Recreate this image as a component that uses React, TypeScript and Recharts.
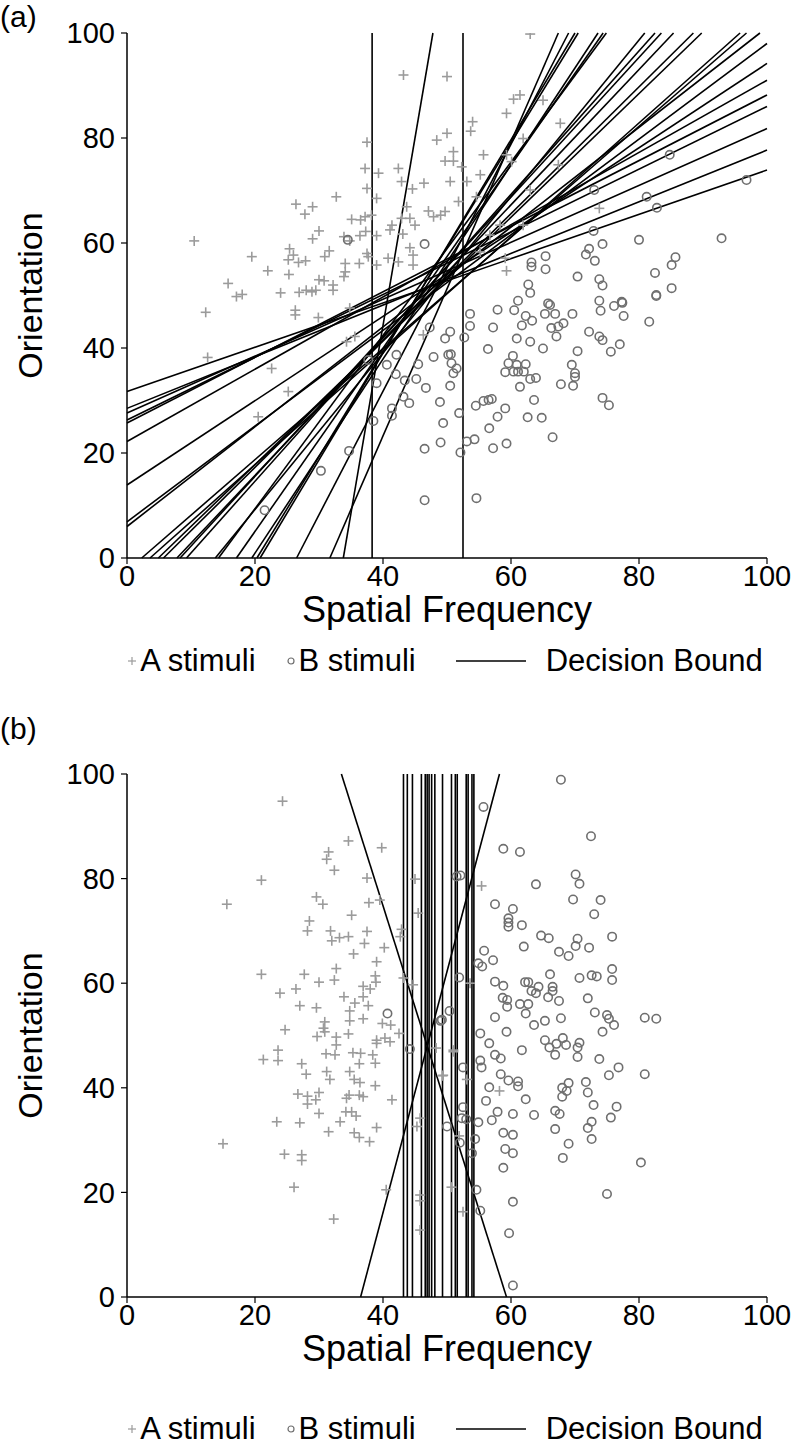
import React from 'react';
import { ScatterChart, Scatter, XAxis, YAxis, ReferenceLine, Label } from 'recharts';

const FONT = '"Liberation Sans", Arial, Helvetica, sans-serif';
const axisTicks = [0, 20, 40, 60, 80, 100];

// ---------- Panel (a) ----------
const panelA_A: [number, number][] = [
  [43.2, 92.0], [50, 91.7], [37.5, 79.2], [37.2, 74.2], [39.3, 73.3], [42.4, 74.2], [42.9, 71.7], [44.6, 70.3],
  [46.4, 71.4], [37.5, 70.4], [39, 68.5], [32.7, 68.8], [26.4, 67.4], [29, 66.9], [27.8, 65.5], [48.4, 79.6],
  [50, 80.9], [49.7, 75.6], [10.5, 60.4], [19.5, 57.4], [22, 54.7], [15.8, 52.3], [17.1, 49.8], [18, 50.2],
  [24, 50.5], [25.4, 58.9], [25.2, 56.8], [26, 57.7], [26.8, 56.3], [27.9, 56.6], [25.3, 54], [26.9, 50.6],
  [28, 51], [28.9, 50.7], [29.5, 51], [30, 53], [30.8, 52.8], [32.2, 52], [32.2, 51], [29, 60.8], [30, 62.3],
  [30.9, 57.4], [31.6, 58.5], [33.9, 61.2], [34.8, 60.4], [35.1, 64.5], [36.5, 64.4], [37.2, 65], [38.2, 65.3],
  [36.4, 61.4], [37.3, 62.2], [39, 61.4], [34.1, 56.1], [34.1, 54.5], [33.9, 53.6], [36.3, 56.1], [37.5, 58],
  [37.7, 57.4], [39, 55.8], [41.1, 62.5], [41.4, 63.4], [42.9, 64.7], [43.7, 66.9], [44.2, 64.7], [45, 63.4],
  [43.1, 61.7], [47.1, 66.1], [47.9, 65], [49, 65.3], [49.7, 66], [40.8, 57.1], [42.4, 56.4], [44.7, 57.7],
  [44.2, 59.1], [44.7, 55.8], [12.3, 46.8], [12.6, 38.2], [22.6, 36.1], [20.5, 26.9], [26.3, 47.2], [26.3, 46.3],
  [29.9, 45.8], [34.8, 47.6], [34.3, 41.2], [35.6, 42.2], [46.3, 42.5], [25.2, 31.7], [63, 99.8], [60.4, 87.4],
  [61.4, 88.2], [65, 87.2], [59.3, 84.7], [54, 83.1], [53.7, 81.3], [61.9, 79.9], [51, 77.4], [51, 75.6],
  [52.3, 74.5], [55.7, 76.8], [59.3, 76.8], [60.1, 75.5], [67.4, 74.9], [55.2, 73], [53.1, 71.7], [50.5, 71.7],
  [54.6, 68.8], [63, 70.1], [51.8, 67.9], [73.8, 66.6], [58.3, 63.4], [61.9, 63.4], [56.7, 61.5], [55.2, 58.3],
  [59.1, 57.1], [59.3, 54.7], [67.7, 82.8],
];

const panelA_B: [number, number][] = [
  [61.1, 49], [57.9, 47.3], [60.5, 47.2], [53.6, 46.5], [53.6, 44.2], [57.2, 43.9], [62.3, 46.1], [63.3, 45.2],
  [61.7, 44.3], [60.9, 41.8], [63, 41.2], [65, 39.9], [56.4, 39.8], [65.3, 46.5], [66.1, 48.2], [66.9, 46.5],
  [66.3, 43.8], [67.1, 42.2], [67.4, 44.1], [68.2, 44.7], [69.6, 46.5], [73.8, 49], [74, 47.1], [76.1, 48],
  [77.4, 48.6], [77.6, 46.1], [72.2, 43.1], [73.8, 42.2], [74.3, 41.5], [77, 40.7], [75.6, 39.3], [70.4, 39.4],
  [81.6, 45], [82.7, 49.9], [60.3, 38.5], [59.6, 37.1], [60.9, 36.8], [62.3, 36.9], [59.1, 35.4], [60.4, 35.5],
  [61.1, 35.5], [62, 35.5], [63, 34.1], [63.9, 34.3], [61.4, 32.6], [69.5, 36.8], [70, 35.2], [70, 34.5],
  [69.7, 32.8], [67.8, 33.1], [74.3, 30.5], [75.3, 29.1], [63.6, 30.1], [54.5, 29], [55.7, 29.9], [56.5, 30.1],
  [57, 30.3], [59.1, 28.5], [57.9, 26.9], [62.6, 26.8], [64.8, 26.7], [56.6, 24.7], [66.5, 23], [59.3, 21.8],
  [57.2, 20.9], [53.1, 22.2], [54.3, 22.6], [52.1, 20.1], [54.6, 11.4], [51.9, 27.6], [50.5, 32.8], [49.4, 25.7],
  [49, 22], [48.9, 29.7], [51, 35.2], [50.7, 37.1], [51.5, 36.1], [50.6, 38.8], [49.7, 41.8], [50.5, 43.1],
  [52.7, 42], [84.8, 76.8], [96.8, 72], [81.2, 68.8], [82.8, 66.7], [92.9, 60.9], [80, 60.6], [73, 70.1],
  [72.9, 62.3], [74.3, 59.8], [72.2, 58.9], [71.7, 57.8], [73.1, 56.6], [85.7, 57.3], [85.1, 55.8], [82.5, 54.3],
  [70.4, 53.6], [73.8, 53.1], [74.3, 51.9], [85.1, 51.4], [82.7, 50.1], [65.4, 57.5], [63.2, 56.3], [63.2, 55.5],
  [65.4, 55], [62.7, 52.1], [63, 50.5], [65.8, 48.5], [77.3, 48.8], [47.3, 43.9], [47.9, 38.3], [45.5, 36.9],
  [43.4, 33.8], [45.2, 34.1], [46.7, 32.4], [42, 35], [46.5, 20.8], [46.5, 11], [43.2, 30.7], [44.1, 29.5],
  [41.4, 28.5], [41.4, 27.1], [38.5, 26.1], [37.7, 37.7], [39, 33.3], [40.6, 36.8], [42.1, 38.7], [34.7, 20.4],
  [30.3, 16.6], [21.5, 9.1], [50.2, 38.7], [46.5, 59.8], [34.5, 60.6],
];

const panelA_vertical: number[] = [38.3, 52.5];

// decision bounds as [x1, y1, x2, y2]
const panelA_bounds: [number, number, number, number][] = [
  [0, 31.7, 100, 73.9], [0, 28.5, 100, 77.7], [0, 27.6, 100, 81.8], [0, 26.3, 100, 86],
  [0, 25.7, 100, 88.2], [0, 22.2, 100, 91], [0, 13.9, 100, 94.2], [0, 6.9, 100, 98], [0, 6.0, 98.9, 100],
  [2.3, 0, 96.8, 100], [3.6, 0, 95.8, 100], [4.9, 0, 89.8, 100], [5.7, 0, 88.5, 100], [7.8, 0, 85.4, 100],
  [8.3, 0, 83.5, 100], [9.3, 0, 82.5, 100], [13.8, 0, 80.9, 100], [14.3, 0, 74.9, 100], [17.1, 0, 74.4, 100],
  [19.5, 0, 73.6, 100], [20.3, 0, 70.5, 100], [20.8, 0, 70, 100], [26.5, 0, 69, 100], [31.7, 0, 67.4, 100],
  [33.8, 0, 47.8, 100],
];

// ---------- Panel (b) ----------
const panelB_A: [number, number][] = [
  [24.3, 94.8], [21, 79.7], [15.6, 75.1], [34.6, 87.2], [39.8, 85.9], [31.5, 85.1], [31.2, 83.7], [32.4, 81.6],
  [37.5, 80.1], [45, 79.9], [29.6, 76.5], [30.6, 75.1], [37.8, 75.4], [39.5, 75.9], [45.5, 73.4], [35.1, 73],
  [28.5, 71.9], [28.2, 70], [31.8, 70], [37.5, 69.9], [32, 68.1], [33.2, 68.7], [34.6, 68.9], [37.1, 67.6],
  [40.2, 66.8], [42.9, 70.3], [42.7, 68.9], [35.4, 65.6], [39, 64.1], [32.7, 62.8], [21, 61.7], [27.7, 61.7],
  [30, 60.2], [32.4, 60.6], [38.8, 61.4], [38.9, 60.2], [23.9, 58.1], [26.4, 58.9], [36.9, 59.4], [38, 58.9],
  [33.9, 57.4], [36.9, 57.4], [27, 55.7], [29.6, 55.3], [35.6, 56.2], [37.7, 55.7], [34.8, 54.7], [30.9, 52.6],
  [34.8, 52.8], [36.9, 53.2], [39.9, 52.3], [41.2, 52], [24.7, 51.1], [30.7, 51.4], [44.7, 59.7], [43.2, 61],
  [29.7, 49.8], [30.9, 50.7], [32.7, 49.7], [32.7, 48.2], [34.6, 50.3], [39, 49.1], [39, 48.5], [40.3, 49.5],
  [41.1, 48.8], [42.5, 50.4], [23.6, 47.2], [21.3, 45.4], [23.6, 45.2], [31.1, 46.5], [32.5, 46.3], [35.3, 46.7],
  [36.5, 46.6], [38.4, 46.3], [36.3, 44.6], [38.8, 44.7], [27.3, 44.6], [28, 42.6], [31.2, 43.1], [31.7, 41.6],
  [34.8, 43.1], [35.5, 41.6], [36.4, 41], [38.8, 40.4], [41.4, 37.7], [26.7, 38.8], [28.2, 38.4], [29.5, 37.7],
  [30, 39.1], [28.2, 36.9], [34.3, 38], [34.7, 38.6], [36.3, 38.6], [36.9, 38.3], [30, 35.1], [34.2, 35.4],
  [35.1, 35.4], [35.8, 34.6], [33.3, 33.5], [23.4, 33.5], [27, 33.3], [31.5, 31.6], [35.5, 31.4], [36.3, 30.5],
  [37.9, 29.7], [39, 32.4], [15, 29.3], [24.6, 27.3], [27.3, 27.2], [27.3, 26.1], [26.1, 21], [40.5, 20.5],
  [32.3, 14.9], [45.3, 32.6], [45.8, 34.2], [45.8, 19.5], [45.8, 18.4], [45.8, 12.8], [50.7, 21], [48.3, 47.6],
  [51, 47.2], [49.4, 42.4], [55.4, 78.6], [53.6, 60], [51, 46.9], [53.1, 41.6], [58.2, 39.4], [49.3, 42.3],
  [51.9, 30.8], [52.5, 16.3],
];

const panelB_B: [number, number][] = [
  [40.7, 54.2], [50.4, 54.7], [49, 52.8], [51.5, 80.4], [44.2, 47.4], [50, 32.6], [67.8, 98.9], [55.7, 93.7],
  [72.5, 88.1], [58.8, 85.7], [61.4, 85.1], [70.1, 80.8], [70.7, 79], [63.9, 78.9], [52.1, 80.6], [69.7, 76],
  [74, 75.9], [73, 73.2], [57.5, 75.1], [60.3, 74.2], [59.6, 72.4], [59.6, 71.6], [59.6, 70.8], [61.7, 71.1],
  [64.7, 69.1], [65.9, 68.6], [70.4, 68.5], [75.8, 68.9], [70.1, 67.1], [72.2, 66.8], [62, 67], [67.5, 66],
  [69, 65.2], [55.8, 66.2], [57.2, 64.4], [54.9, 63.8], [55.5, 63.2], [51.9, 61.1], [57.5, 60.3], [58.8, 59.5],
  [62.2, 60.2], [62.7, 60.2], [63.2, 58.5], [63.9, 58.1], [64.3, 59.3], [66.1, 61.7], [66.5, 59.3], [66.5, 58.5],
  [65.8, 57.3], [67.5, 56.6], [70.7, 61], [72.6, 61.5], [73.4, 61.3], [75.8, 62.7], [75.8, 60.6], [72, 57.1],
  [58.7, 57.2], [59.4, 56.8], [59.4, 55.5], [61.4, 56], [62.7, 56], [62.3, 54.2], [57.5, 53.5], [63.6, 52],
  [65.3, 52.8], [67.8, 53.3], [73.1, 54.4], [75, 53.9], [75.3, 53.2], [76.1, 52], [80.9, 53.4], [82.7, 53.2],
  [74.3, 50.7], [59.3, 50.7], [55.2, 50.4], [49.2, 53], [56.6, 48.5], [65.3, 49.1], [68.1, 49.5], [66, 47.7],
  [67.1, 48.4], [68.6, 48.2], [70.7, 48.6], [70.4, 47.7], [61.7, 47.2], [66.9, 46.3], [57.5, 46.3], [58.4, 45.6],
  [55.2, 45.2], [55.4, 43.9], [52.5, 43.9], [70.4, 45.9], [73.8, 45.5], [76.8, 43.9], [75.3, 42.4], [80.9, 42.6],
  [58.4, 42.6], [59.6, 41.4], [61.1, 41.2], [61.1, 40.3], [56.6, 40.1], [69, 40.9], [68, 40], [68.7, 39.4],
  [71.7, 41.1], [72, 39.1], [68, 38.3], [62.3, 37.8], [56.1, 37.5], [72.9, 36.7], [76.5, 36.4], [52.5, 36.3],
  [52.3, 34.2], [57.9, 35.4], [60.3, 35], [63.6, 34.8], [66.9, 35.6], [67.6, 35], [57, 33.8], [54.9, 33.4],
  [53, 34], [72.6, 33.5], [75.6, 34.3], [72, 32.3], [66.9, 32.1], [58.8, 31.4], [60.3, 31], [72.6, 30.2],
  [54.4, 30.2], [52, 29.5], [69, 29.3], [59.1, 28.3], [60.3, 27.5], [53.9, 27.5], [68.1, 26.6], [58.8, 24.7],
  [80.3, 25.7], [54.6, 20.5], [75, 19.7], [55.2, 16.5], [60.3, 18.2], [59.7, 12.2], [60.3, 2.2],
];

const panelB_vertical: number[] = [
  43.2, 43.8, 44.6, 46.0, 46.6, 46.9, 47.2, 47.6, 48.1, 49.3, 50.7, 51.3, 51.6, 53.0, 53.3, 53.9, 54.2,
];

const panelB_bounds: [number, number, number, number][] = [
  [33.5, 100, 59.3, 0], [36.5, 0, 58.2, 100],
];

const legendLabels = ['A stimuli', 'B stimuli', 'Decision Bound'];

// ---------- styles ----------
const A_COLOR = '#9b9b9b';
const B_COLOR = '#6f6f6f';

const PlusShape = (props: any) => {
  const { cx, cy } = props;
  if (cx == null || cy == null) return <g />;
  const h = 5;
  return (
    <g>
      <line x1={cx - h} x2={cx + h} y1={cy} y2={cy} stroke={A_COLOR} strokeWidth={1.6} />
      <line x1={cx} x2={cx} y1={cy - h} y2={cy + h} stroke={A_COLOR} strokeWidth={1.6} />
    </g>
  );
};

const CircleShape = (props: any) => {
  const { cx, cy } = props;
  if (cx == null || cy == null) return <g />;
  return <circle cx={cx} cy={cy} r={4.2} fill="none" stroke={B_COLOR} strokeWidth={1.6} />;
};

const toPts = (arr: [number, number][]) => arr.map(([x, y]) => ({ x, y }));

interface PanelProps {
  top: number;
  height: number;
  aPts: [number, number][];
  bPts: [number, number][];
  vertical: number[];
  bounds: [number, number, number, number][];
  titleDy: number;
  legendTop: number;
  tag: string;
  tagTop: number;
}

const Legend = ({ top }: { top: number }) => (
  <div
    style={{
      position: 'absolute',
      top,
      left: 0,
      width: 890,
      display: 'flex',
      justifyContent: 'center',
      alignItems: 'center',
      fontFamily: FONT,
      fontSize: 31,
      color: '#000',
      whiteSpace: 'nowrap',
    }}
  >
    <svg width={10} height={10} style={{ marginRight: 3 }}>
      <line x1={1} x2={9} y1={5} y2={5} stroke={A_COLOR} strokeWidth={1.2} />
      <line x1={5} x2={5} y1={1} y2={9} stroke={A_COLOR} strokeWidth={1.2} />
    </svg>
    <span>{legendLabels[0]}</span>
    <svg width={10} height={10} style={{ marginLeft: 30, marginRight: 3 }}>
      <circle cx={5} cy={5} r={3} fill="none" stroke={B_COLOR} strokeWidth={1.2} />
    </svg>
    <span>{legendLabels[1]}</span>
    <svg width={74} height={10} style={{ marginLeft: 38, marginRight: 18 }}>
      <line x1={2} x2={72} y1={5} y2={5} stroke="#000" strokeWidth={1.6} />
    </svg>
    <span>{legendLabels[2]}</span>
  </div>
);

const Panel = (p: PanelProps) => {
  const aData = toPts(p.aPts);
  const bData = toPts(p.bPts);
  const yLabel = (props: any) => {
    const vb = props.viewBox;
    const x = 42;
    const y = vb.y + vb.height / 2;
    return (
      <text x={x} y={y} transform={`rotate(-90, ${x}, ${y})`} textAnchor="middle" fontSize={34} fontFamily={FONT} fill="#000">
        Orientation
      </text>
    );
  };
  const xLabel = (props: any) => {
    const vb = props.viewBox;
    return (
      <text x={vb.x + vb.width / 2} y={vb.y + p.titleDy} textAnchor="middle" fontSize={36} fontFamily={FONT} fill="#000">
        Spatial Frequency
      </text>
    );
  };
  return (
    <>
      <div style={{ position: 'absolute', left: 0, top: p.tagTop, fontFamily: FONT, fontSize: 30, color: '#000' }}>{p.tag}</div>
      <div style={{ position: 'absolute', left: 0, top: p.top }}>
        <ScatterChart width={793} height={p.height} margin={{ top: 33, right: 26, bottom: 0, left: 0 }}>
          <XAxis
            type="number"
            dataKey="x"
            domain={[0, 100]}
            ticks={axisTicks}
            interval={0}
            height={82}
            tickSize={6}
            tickMargin={1}
            axisLine={{ stroke: '#000', strokeWidth: 1.5 }}
            tickLine={{ stroke: '#000', strokeWidth: 1.2 }}
            tick={{ fontSize: 29, fill: '#000', fontFamily: FONT }}
            allowDataOverflow
          >
            <Label content={xLabel} />
          </XAxis>
          <YAxis
            type="number"
            dataKey="y"
            domain={[0, 100]}
            ticks={axisTicks}
            interval={0}
            width={127}
            tickSize={6}
            tickMargin={6}
            axisLine={{ stroke: '#000', strokeWidth: 1.5 }}
            tickLine={{ stroke: '#000', strokeWidth: 1.2 }}
            tick={{ fontSize: 29, fill: '#000', fontFamily: FONT }}
            allowDataOverflow
          >
            <Label content={yLabel} />
          </YAxis>
          <Scatter name="A stimuli" data={aData} shape={PlusShape} isAnimationActive={false} />
          <Scatter name="B stimuli" data={bData} shape={CircleShape} isAnimationActive={false} />
          {p.vertical.map((v, i) => (
            <ReferenceLine key={`v${i}`} x={v} stroke="#000" strokeWidth={1.6} ifOverflow="visible" />
          ))}
          {p.bounds.map((b, i) => (
            <ReferenceLine
              key={`s${i}`}
              segment={[{ x: b[0], y: b[1] }, { x: b[2], y: b[3] }]}
              stroke="#000"
              strokeWidth={1.6}
              ifOverflow="visible"
            />
          ))}
        </ScatterChart>
      </div>
      <Legend top={p.legendTop} />
    </>
  );
};

export default function App() {
  return (
    <div style={{ position: 'absolute', left: 0, top: 0, width: 793, height: 1446, background: '#fff' }}>
      <Panel
        top={0}
        height={640}
        aPts={panelA_A}
        bPts={panelA_B}
        vertical={panelA_vertical}
        bounds={panelA_bounds}
        titleDy={64}
        legendTop={643}
        tag="(a)"
        tagTop={0}
      />
      <Panel
        top={741}
        height={638}
        aPts={panelB_A}
        bPts={panelB_B}
        vertical={panelB_vertical}
        bounds={panelB_bounds}
        titleDy={64}
        legendTop={1411}
        tag="(b)"
        tagTop={712}
      />
    </div>
  );
}
